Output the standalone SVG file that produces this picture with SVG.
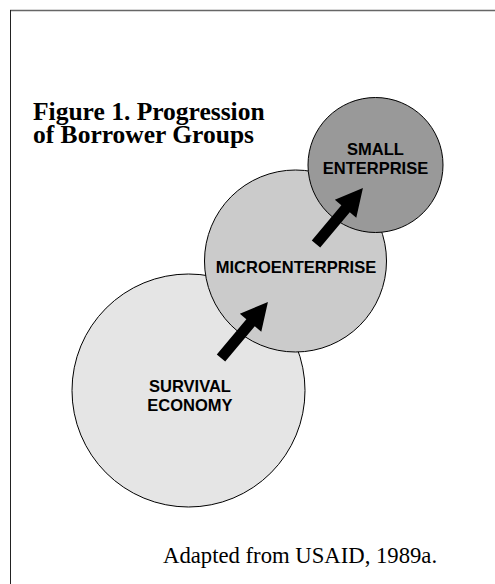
<svg xmlns="http://www.w3.org/2000/svg" width="495" height="584" viewBox="0 0 495 584">
<style>
.node circle{stroke:#000;stroke-width:1}
.lbl{font-family:"Liberation Sans",Arial,sans-serif;font-weight:bold;font-size:16.5px;fill:#000;text-anchor:middle}
.title{font-family:"Liberation Serif","Times New Roman",serif;font-weight:bold;font-size:25.5px;fill:#000}
.note{font-family:"Liberation Serif","Times New Roman",serif;font-size:22.7px;fill:#000}
.arrow{fill:#000}
</style>
<defs>
<polygon id="arr" points="0,-5.5 46,-5.5 46,-14 73,0 46,14 46,5.5 0,5.5"/>
</defs>
<rect width="495" height="584" fill="#fff"/>
<line x1="10" y1="10.5" x2="495" y2="10.5" stroke="#666" stroke-width="1.5"/>
<line x1="10.5" y1="10" x2="10.5" y2="584" stroke="#222" stroke-width="1"/>
<g id="title">
<text class="title" x="33" y="120">Figure 1. Progression</text>
<text class="title" x="33" y="143">of Borrower Groups</text>
</g>
<g id="survival" class="node">
<circle cx="188.5" cy="390.5" r="116.5" fill="#e5e5e5"/>
<text class="lbl" x="190" y="391.5">SURVIVAL</text>
<text class="lbl" x="190" y="410.5">ECONOMY</text>
</g>
<g id="micro" class="node">
<circle cx="295.5" cy="261" r="91" fill="#cbcbcb"/>
<text class="lbl" x="296" y="273">MICROENTERPRISE</text>
</g>
<g id="small" class="node">
<circle cx="375.5" cy="165" r="67.5" fill="#999"/>
<text class="lbl" x="375.5" y="155">SMALL</text>
<text class="lbl" x="375.5" y="174">ENTERPRISE</text>
</g>
<g id="connectors" class="arrow">
<use href="#arr" transform="translate(221,358) rotate(-50)"/>
<use href="#arr" transform="translate(316,244) rotate(-50)"/>
</g>
<g id="source">
<text class="note" x="163" y="563">Adapted from USAID, 1989a.</text>
</g>
</svg>
